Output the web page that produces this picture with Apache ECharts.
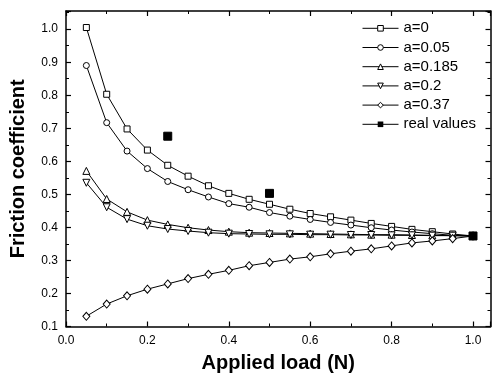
<!DOCTYPE html>
<html><head><meta charset="utf-8">
<script src="https://cdn.jsdelivr.net/npm/echarts@6/dist/echarts.min.js"></script>
<style>html,body{margin:0;padding:0;background:#fff}#c{width:492px;height:386px}</style>
</head><body><div id="c"></div>
<script>
const loads = [0.05,0.10,0.15,0.20,0.25,0.30,0.35,0.40,0.45,0.50,0.55,0.60,0.65,0.70,0.75,0.80,0.85,0.90,0.95,1.00];
const a0    = [1.005,0.803,0.698,0.634,0.588,0.555,0.526,0.503,0.485,0.470,0.455,0.442,0.432,0.422,0.412,0.403,0.394,0.387,0.380,0.374];
const a005  = [0.890,0.717,0.631,0.578,0.539,0.514,0.492,0.472,0.461,0.445,0.434,0.424,0.415,0.407,0.399,0.392,0.386,0.381,0.376,0.374];
const a0185 = [0.571,0.486,0.447,0.422,0.409,0.399,0.392,0.387,0.384,0.383,0.382,0.381,0.380,0.379,0.378,0.378,0.377,0.376,0.375,0.374];
const a02   = [0.535,0.461,0.425,0.405,0.395,0.389,0.384,0.381,0.380,0.379,0.379,0.378,0.378,0.377,0.377,0.376,0.376,0.375,0.375,0.374];
const a037  = [0.131,0.168,0.193,0.213,0.229,0.245,0.258,0.270,0.284,0.294,0.304,0.311,0.320,0.328,0.335,0.344,0.353,0.359,0.366,0.374];
const realLoads  = [0.25,0.50,1.00];
const realValues = [0.676,0.503,0.374];
const names = ['a=0','a=0.05','a=0.185','a=0.2','a=0.37','real values'];

const pair = (xs, ys) => xs.map((x,i)=>[x,ys[i]]);
const FONT = '"Liberation Sans", Arial, sans-serif';
const black = '#000';

function lineSeries(name, ys, symbol, size, rotate) {
  return {
    name, type:'line', data: pair(loads, ys), symbol, symbolSize:size, symbolRotate: rotate||0,
    showAllSymbol:true, animation:false,
    lineStyle:{color:black,width:1}, itemStyle:{color:'#fff',borderColor:black,borderWidth:1}
  };
}

const baseX = {type:'value', min:0, max:1.043, interval:0.2,
  axisLine:{show:true,onZero:false,lineStyle:{color:black,width:1.5}},
  axisTick:{inside:true,length:5,lineStyle:{color:black,width:1.2}},
  minorTick:{show:true,splitNumber:2,length:3,lineStyle:{color:black,width:1}},
  splitLine:{show:false}, minorSplitLine:{show:false}};
const baseY = {type:'value', min:0.1, max:1.055, interval:0.1,
  axisLine:{show:true,onZero:false,lineStyle:{color:black,width:1.5}},
  axisTick:{inside:true,length:5,lineStyle:{color:black,width:1.2}},
  minorTick:{show:true,splitNumber:2,length:3,lineStyle:{color:black,width:1}},
  splitLine:{show:false}, minorSplitLine:{show:false}};

const legendItem = (n) => ({name:n, lineStyle:{width:1,color:black,opacity:1},
  itemStyle:{borderWidth:1,borderColor:black,opacity:1}});

const chart = echarts.init(document.getElementById('c'), null, {renderer:'canvas'});
chart.setOption({
  animation:false,
  backgroundColor:'#fff',
  grid:{left:66, right:1.5, top:11, bottom:59.5, containLabel:false},
  xAxis:[
    Object.assign({}, baseX, {position:'bottom',
      axisLabel:{show:true,margin:8,fontSize:12,color:black,fontFamily:FONT,showMaxLabel:false,
        formatter:v=>v.toFixed(1)},
      name:'Applied load (N)', nameLocation:'middle', nameGap:27, nameMoveOverlap:false,
      nameTextStyle:{fontSize:20,fontWeight:'bold',color:black,fontFamily:FONT}}),
    Object.assign({}, baseX, {position:'top', axisLabel:{show:false}})
  ],
  yAxis:[
    Object.assign({}, baseY, {position:'left',
      axisLabel:{show:true,margin:8,fontSize:12,color:black,fontFamily:FONT,showMaxLabel:false,
        formatter:v=>v.toFixed(1)},
      name:'Friction coefficient', nameLocation:'middle', nameGap:38, nameRotate:90, nameMoveOverlap:false,
      nameTextStyle:{fontSize:20,fontWeight:'bold',color:black,fontFamily:FONT}}),
    Object.assign({}, baseY, {position:'right', axisLabel:{show:false}})
  ],
  legend:{
    orient:'vertical', left:362, top:20.8, padding:0, itemWidth:36, itemHeight:7, itemGap:4.2,
    textStyle:{fontSize:15,lineHeight:15,color:black,fontFamily:FONT},
    data:[
      legendItem(names[0]),legendItem(names[1]),legendItem(names[2]),legendItem(names[3]),legendItem(names[4]),
      {name:names[5], lineStyle:{opacity:1,color:black,width:1}, itemStyle:{color:black,borderColor:black,opacity:1}}
    ]
  },
  series:[
    lineSeries(names[0], a0, 'rect', 6),
    lineSeries(names[1], a005, 'circle', 6),
    lineSeries(names[2], a0185, 'triangle', 7),
    lineSeries(names[3], a02, 'triangle', 7, 180),
    lineSeries(names[4], a037, 'diamond', [7,8]),
    {name:names[5], type:'line', data: pair(realLoads, realValues), symbol:'rect', symbolSize:8,
     lineStyle:{opacity:0,color:black,width:1}, itemStyle:{color:black,borderColor:black}, z:5}
  ]
});
</script>
</body></html>
